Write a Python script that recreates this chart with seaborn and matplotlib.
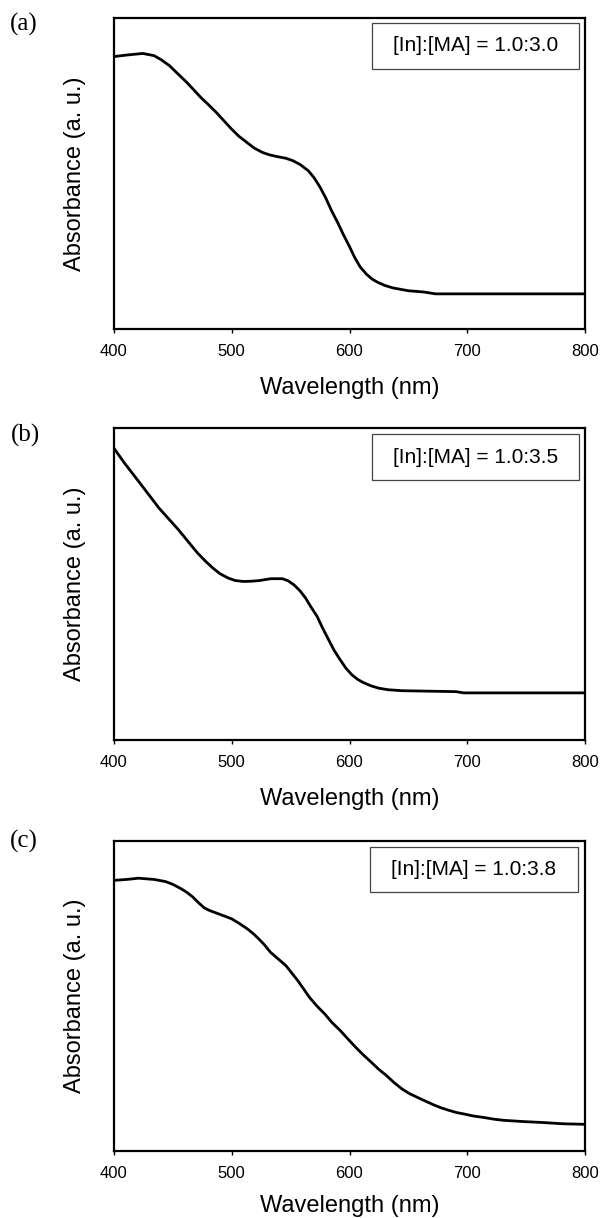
import numpy as np
import pandas as pd
import matplotlib
matplotlib.use("Agg")
import matplotlib.pyplot as plt
from matplotlib.patches import Rectangle
import seaborn as sns

# ---- data (absorbance in arbitrary units) ----
wl_a = [400, 411, 424.5, 434, 440, 447, 453, 460.5, 467, 473.6, 480, 486.7, 493, 499.8, 506,
        512.8, 519, 525.9, 532, 539, 546, 552, 558, 565, 570, 575, 580, 584.8, 590, 594.6,
        600, 604.4, 609, 614.2, 619, 624, 630, 637, 650, 663, 673, 700, 750, 800]
abs_a = [0.876, 0.881, 0.886, 0.879, 0.866, 0.847, 0.825, 0.798, 0.772, 0.745, 0.722, 0.697, 0.671,
         0.643, 0.620, 0.600, 0.582, 0.568, 0.560, 0.554, 0.549, 0.541, 0.529, 0.509, 0.486,
         0.456, 0.420, 0.380, 0.342, 0.305, 0.265, 0.230, 0.200, 0.177, 0.161, 0.150, 0.140,
         0.132, 0.123, 0.119, 0.113, 0.113, 0.113, 0.113]

wl_b = [400, 408.8, 421.9, 438.3, 454.7, 471, 478, 484, 490, 497, 503, 510.3, 517, 523.4, 533.2,
        543, 548, 552.9, 558, 562.7, 567, 572.5, 577, 582.3, 587, 592.1, 597, 602, 607, 611.8,
        618, 624.9, 633, 644.5, 690.4, 697, 750, 800]
abs_b = [0.935, 0.888, 0.824, 0.743, 0.674, 0.599, 0.572, 0.551, 0.533, 0.519, 0.511, 0.508, 0.509,
         0.511, 0.517, 0.517, 0.510, 0.497, 0.478, 0.455, 0.428, 0.396, 0.360, 0.321, 0.287,
         0.257, 0.230, 0.209, 0.194, 0.184, 0.174, 0.166, 0.161, 0.158, 0.155, 0.151, 0.151, 0.151]

wl_c = [400, 410.9, 420.8, 434, 443.9, 450, 457, 462, 467, 472, 476.8, 481, 486.7, 493, 499.9, 506,
        513.1, 518, 523, 528, 532.9, 539, 546, 551, 556, 561, 565.9, 572, 579, 585, 592.3, 599,
        605.4, 612, 618.6, 625, 631.8, 638, 645, 651, 658.2, 665, 671.4, 678, 684.6, 691, 697.8,
        705, 714.3, 722, 730.8, 747.3, 763.7, 780.2, 800]
abs_c = [0.873, 0.876, 0.880, 0.876, 0.869, 0.860, 0.846, 0.834, 0.819, 0.800, 0.784, 0.776, 0.768,
         0.759, 0.749, 0.735, 0.717, 0.702, 0.684, 0.664, 0.641, 0.621, 0.598, 0.574, 0.550, 0.523,
         0.496, 0.469, 0.442, 0.415, 0.388, 0.360, 0.334, 0.309, 0.286, 0.263, 0.242, 0.220, 0.199,
         0.185, 0.172, 0.160, 0.149, 0.139, 0.131, 0.124, 0.119, 0.113, 0.108, 0.103, 0.099, 0.095,
         0.092, 0.088, 0.086]

panel_labels = ["(a)", "(b)", "(c)"]
ratio_labels = ["[In]:[MA] = 1.0:3.0", "[In]:[MA] = 1.0:3.5", "[In]:[MA] = 1.0:3.8"]
x_ticks = [400, 500, 600, 700, 800]

sns.set_style("ticks")
plt.rcParams['font.family'] = ['Liberation Sans', 'DejaVu Sans']
plt.rcParams['text.color'] = 'black'
plt.rcParams['axes.labelcolor'] = 'black'
plt.rcParams['xtick.color'] = 'black'

W, H = 605, 1218
fig = plt.figure(figsize=(W / 100, H / 100), dpi=100)

# pixel boxes: (left, top, right, bottom)
ax_px = [(114, 18, 585, 329), (114, 428, 585, 740), (114, 841, 585, 1151)]
box_ax = [(0.548, 0.836, 0.4395, 0.148), (0.548, 0.833, 0.4395, 0.147), (0.5435, 0.835, 0.4416, 0.145)]
lab_px = [(24, 24), (26, 435), (24, 841)]
xlab_pad = [13, 13, 10]

series = [(wl_a, abs_a), (wl_b, abs_b), (wl_c, abs_c)]

for i, (wl, ab) in enumerate(series):
    l, t, r, b = ax_px[i]
    ax = fig.add_axes([l / W, 1 - b / H, (r - l) / W, (b - t) / H])
    df = pd.DataFrame({"Wavelength": wl, "Absorbance": ab})
    sns.lineplot(data=df, x="Wavelength", y="Absorbance", ax=ax, color="black", lw=2.0,
                 estimator=None, sort=False)
    ax.set_xlim(400, 800)
    ax.set_ylim(0, 1)
    ax.set_xticks(x_ticks)
    ax.set_xticklabels([str(v) for v in x_ticks], fontsize=12, color="black")
    ax.set_yticks([])
    ax.tick_params(axis="x", direction="out", length=3, width=1, pad=8, color="black")
    for s in ax.spines.values():
        s.set_linewidth(1.6)
        s.set_color("black")
    ax.set_xlabel("Wavelength (nm)", fontsize=17, labelpad=xlab_pad[i], color="black")
    ax.set_ylabel("Absorbance (a. u.)", fontsize=17, labelpad=20, color="black")
    x0, y0, bw, bh = box_ax[i]
    ax.add_patch(Rectangle((x0, y0), bw, bh, transform=ax.transAxes, fill=True,
                           facecolor="white", edgecolor="#444444", lw=0.9, zorder=5))
    ax.text(x0 + bw / 2, y0 + bh / 2, ratio_labels[i], transform=ax.transAxes,
            ha="center", va="center", fontsize=15, zorder=6, color="black")
    lx, ly = lab_px[i]
    fig.text(lx / W, 1 - ly / H, panel_labels[i], ha="center", va="center",
             fontsize=18, family=["Liberation Serif", "DejaVu Serif"], color="black")

fig.savefig("out.png", dpi=100)
